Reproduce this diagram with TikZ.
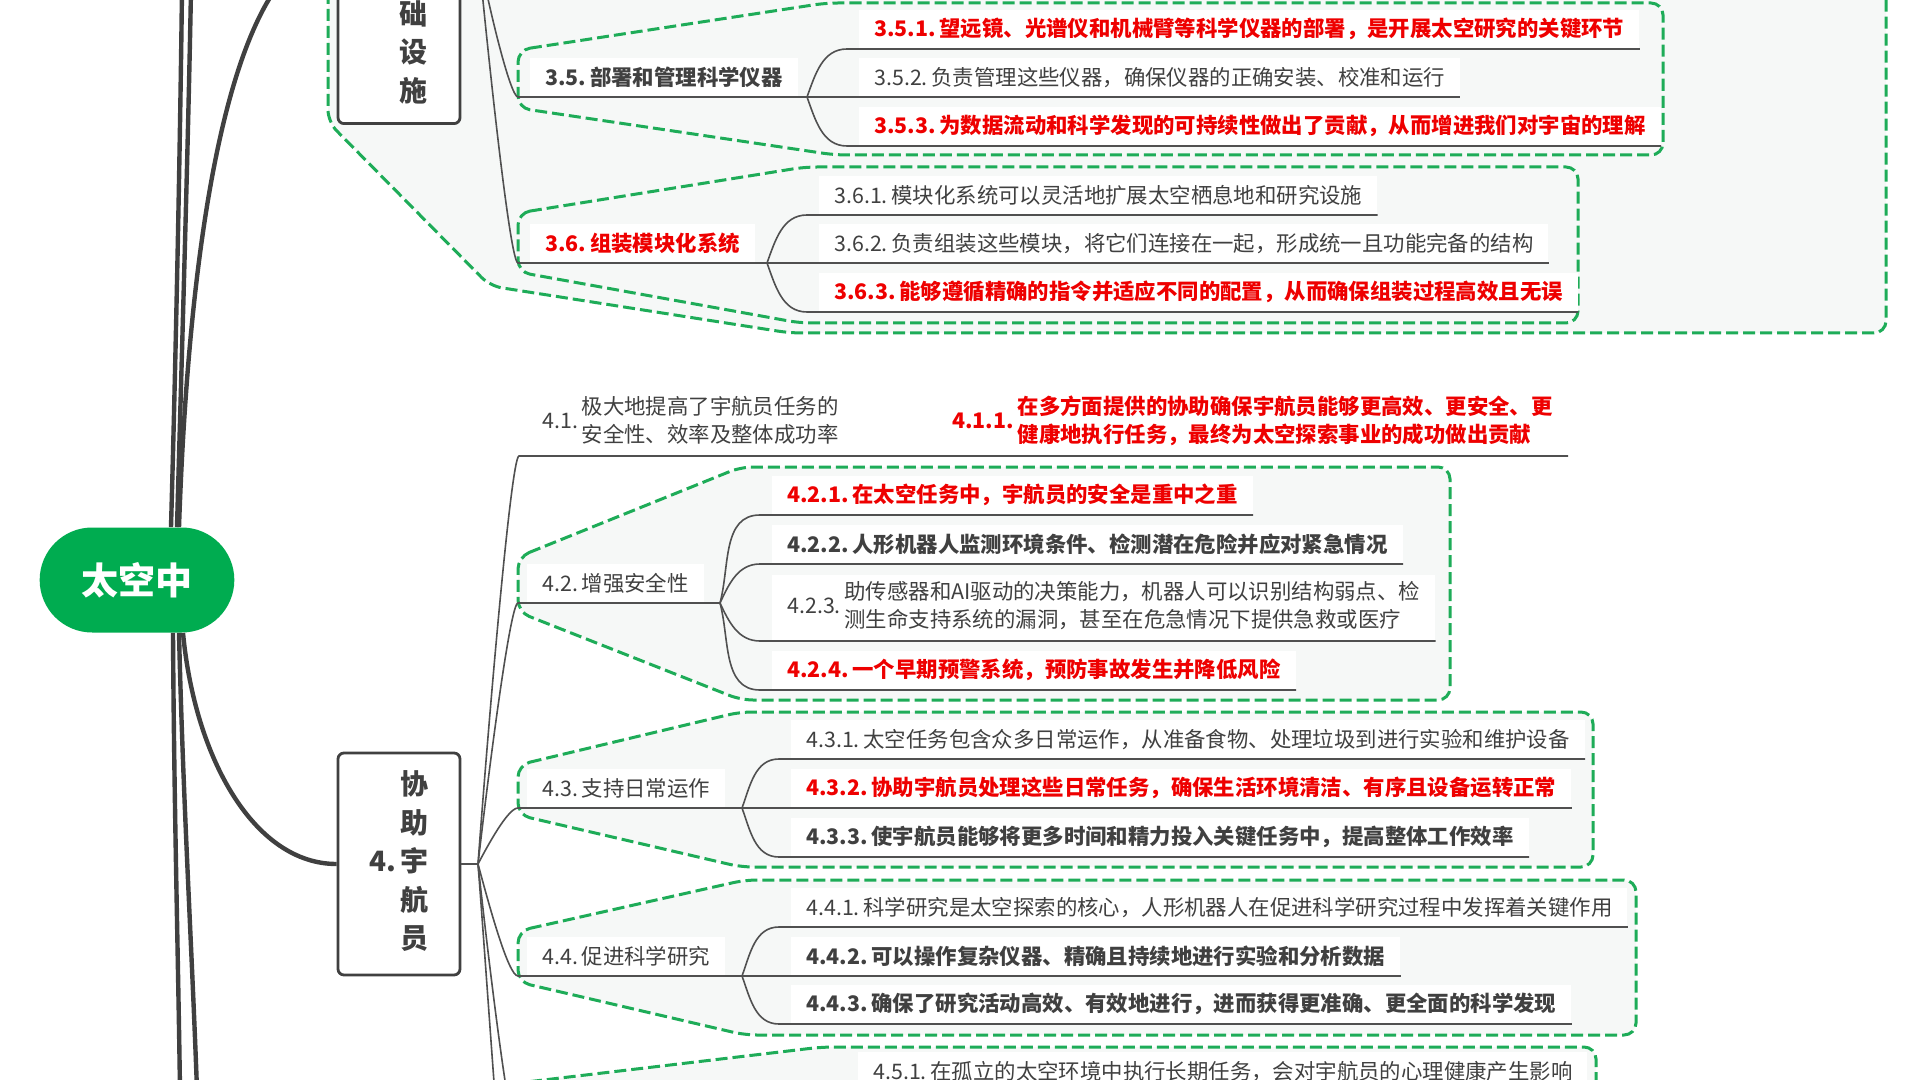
\documentclass[tikz,border=0pt]{standalone}
\usepackage{fontspec}
\setmainfont{Noto Sans CJK SC}
\usetikzlibrary{shapes.misc}

\definecolor{ink}{RGB}{64,64,64}
\definecolor{hotred}{RGB}{238,0,0}
\definecolor{wirecol}{RGB}{80,80,80}
\definecolor{dashgreen}{RGB}{30,172,88}
\definecolor{shade}{RGB}{246,248,247}
\definecolor{hubgreen}{RGB}{0,172,80}

\newcommand{\txtfont}{\fontsize{10.7pt}{14.3pt}\selectfont}
\newcommand{\numlines}[3]{#1\,\begin{tabular}{@{}l@{}}#2\\#3\end{tabular}}

\tikzstyle{trunk} = [line width=2.2pt, draw=ink]
\tikzstyle{link} = [line width=0.8pt, draw=wirecol]
\tikzstyle{grp} = [draw=dashgreen, fill=shade, line width=1.5pt, dash pattern=on 6pt off 2.5pt, rounded corners=6pt]
\tikzstyle{topic} = [fill=white, anchor=south west, inner xsep=7.5pt, inner ysep=2.2pt, minimum height=19.5pt, text=ink, font=\txtfont]
\tikzstyle{hot} = [topic, text=hotred, font=\txtfont\bfseries]
\tikzstyle{strong} = [topic, font=\txtfont\bfseries]
\tikzstyle{mainbox} = [draw=ink, line width=1.4pt, rounded corners=3pt, fill=white, minimum width=61pt, text=ink, font=\fontsize{14pt}{19.3pt}\selectfont\bfseries]
\tikzstyle{boxlabel} = [text=ink, font=\fontsize{14pt}{19.3pt}\selectfont\bfseries]
\tikzstyle{hub} = [rounded rectangle, fill=hubgreen, text=white, minimum width=104pt, minimum height=52.5pt, font=\fontsize{18.5pt}{22pt}\selectfont\bfseries]

\begin{document}
\begin{tikzpicture}[x=0.5pt, y=-0.5pt]
        \useasboundingbox (0,0) rectangle (1920,1080);
        \clip (0,0) rectangle (1920,1080);
        \fill[white] (0,0) rectangle (1920,1080);

        % dashed groups
        \draw[grp] (328,-20) -- (328,122) -- (490,286) -- (790,333) -- (1886,333) -- (1886,-20) -- cycle;
        \draw[grp] (518,50) -- (826,3) -- (1663,3) -- (1663,155) -- (835,155) -- (518,108) -- cycle;
        \draw[grp] (518,213) -- (805,167) -- (1578,167) -- (1578,323) -- (800,323) -- (518,272) -- cycle;
        \draw[grp] (518,557) -- (741,467) -- (1450,467) -- (1450,700) -- (741,700) -- (518,612) -- cycle;
        \draw[grp] (518,765) -- (740,712) -- (1593,712) -- (1593,867) -- (741,867) -- (518,815) -- cycle;
        \draw[grp] (518,931) -- (745,880) -- (1636,880) -- (1636,1035) -- (745,1035) -- (518,982) -- cycle;
        \draw[grp] (518,1083) -- (822,1047) -- (1596,1047) -- (1596,1200) -- (518,1200) -- cycle;

        \node (hub) [hub] at (137,580) {太空中};
        \node (n3) [mainbox, minimum height=175pt, anchor=south] at (399,125) {};
        \node (n3lbl) [boxlabel] at (413,55) {\begin{tabular}{@{}c@{}}础\\设\\施\end{tabular}};
        \node (n4) [mainbox, minimum height=111pt] at (399,864) {\begin{tabular}{@{}r@{\,}c@{}} &协\\ &助\\4.&宇\\ &航\\ &员\end{tabular}};

        \node (n35) [strong] at (530,97) {3.5.\,部署和管理科学仪器};
        \node (n351) [hot] at (859,49) {3.5.1.\,望远镜、光谱仪和机械臂等科学仪器的部署，是开展太空研究的关键环节};
        \node (n352) [topic] at (859,97) {3.5.2.\,负责管理这些仪器，确保仪器的正确安装、校准和运行};
        \node (n353) [hot] at (859,146) {3.5.3.\,为数据流动和科学发现的可持续性做出了贡献，从而增进我们对宇宙的理解};
        \node (n36) [hot] at (530,263) {3.6.\,组装模块化系统};
        \node (n361) [topic] at (819,215) {3.6.1.\,模块化系统可以灵活地扩展太空栖息地和研究设施};
        \node (n362) [topic] at (819,263) {3.6.2.\,负责组装这些模块，将它们连接在一起，形成统一且功能完备的结构};
        \node (n363) [hot] at (819,312) {3.6.3.\,能够遵循精确的指令并适应不同的配置，从而确保组装过程高效且无误};

        \node (n41) [topic] at (527,456) {\numlines{4.1.}{极大地提高了宇航员任务的}{安全性、效率及整体成功率}};
        \node (n411) [hot] at (937,456) {\numlines{4.1.1.}{在多方面提供的协助确保宇航员能够更高效、更安全、更}{健康地执行任务，最终为太空探索事业的成功做出贡献}};
        \node (n42) [topic] at (527,603) {4.2.\,增强安全性};
        \node (n421) [hot] at (772,515) {4.2.1.\,在太空任务中，宇航员的安全是重中之重};
        \node (n422) [strong] at (772,564) {4.2.2.\,人形机器人监测环境条件、检测潜在危险并应对紧急情况};
        \node (n423) [topic] at (772,641) {\numlines{4.2.3.}{助传感器和AI驱动的决策能力，机器人可以识别结构弱点、检}{测生命支持系统的漏洞，甚至在危急情况下提供急救或医疗}};
        \node (n424) [hot] at (772,690) {4.2.4.\,一个早期预警系统，预防事故发生并降低风险};
        \node (n43) [topic] at (527,808) {4.3.\,支持日常运作};
        \node (n431) [topic] at (791,759) {4.3.1.\,太空任务包含众多日常运作，从准备食物、处理垃圾到进行实验和维护设备};
        \node (n432) [hot] at (791,808) {4.3.2.\,协助宇航员处理这些日常任务，确保生活环境清洁、有序且设备运转正常};
        \node (n433) [strong] at (791,857) {4.3.3.\,使宇航员能够将更多时间和精力投入关键任务中，提高整体工作效率};
        \node (n44) [topic] at (527,976) {4.4.\,促进科学研究};
        \node (n441) [topic] at (791,927) {4.4.1.\,科学研究是太空探索的核心，人形机器人在促进科学研究过程中发挥着关键作用};
        \node (n442) [strong] at (791,976) {4.4.2.\,可以操作复杂仪器、精确且持续地进行实验和分析数据};
        \node (n443) [strong] at (791,1024) {4.4.3.\,确保了研究活动高效、有效地进行，进而获得更准确、更全面的科学发现};
        \node (n451) [topic] at (858,1091) {4.5.1.\,在孤立的太空环境中执行长期任务，会对宇航员的心理健康产生影响};

        \coordinate (up1) at (182,-10);
        \coordinate (up2) at (191,-10);
        \coordinate (down1) at (180,1090);
        \coordinate (down2) at (197,1090);
        \coordinate (f3) at (478,-50);
        \coordinate (f35) at (807,97);
        \coordinate (f36) at (767,263);
        \coordinate (f4) at (478,864);
        \coordinate (f42) at (720,603);
        \coordinate (f43) at (742,808);
        \coordinate (f44) at (742,976);
        \coordinate (e45) at (518,1140);
        \coordinate (e46) at (518,1330);

        % trunk lines
        \draw[trunk] ([xshift=17pt]hub.north) .. controls (176,350) and (180,150) .. (up1);
        \draw[trunk] ([xshift=20pt]hub.north) .. controls (182,350) and (188,150) .. (up2);
        \draw[trunk] ([xshift=21pt]hub.north) .. controls (192,150) and (250,-50) .. (n3.west);
        \draw[trunk] ([xshift=18pt]hub.south) .. controls (174,800) and (178,950) .. (down1);
        \draw[trunk] ([xshift=21pt]hub.south) .. controls (183,800) and (192,950) .. (down2);
        \draw[trunk] ([xshift=23pt]hub.south) .. controls (195,760) and (255,864) .. (n4.west);

        % branch 3
        \draw[link] (n3.east) -- (f3);
        \draw[link] (f3) .. controls +(9,50) and +(-8,0) .. ([xshift=-6pt]n35.south west) -- (f35);
        \draw[link] (f3) .. controls +(10,105) and +(-8,0) .. ([xshift=-6pt]n36.south west) -- (f36);
        \draw[link] (f35) to[out=70,in=180] ([xshift=-6pt]n351.south west) -- (n351.south east);
        \draw[link] (f35) -- (n352.south east);
        \draw[link] (f35) to[out=-70,in=180] ([xshift=-6pt]n353.south west) -- (n353.south east);
        \draw[link] (f36) to[out=70,in=180] ([xshift=-6pt]n361.south west) -- (n361.south east);
        \draw[link] (f36) -- (n362.south east);
        \draw[link] (f36) to[out=-70,in=180] ([xshift=-6pt]n363.south west) -- (n363.south east);

        % branch 4
        \draw[link] (n4.east) -- (f4);
        \draw[link] (f4) .. controls +(10,-136) and +(-8,0) .. ([xshift=-4pt]n41.south west) -- (n411.south east);
        \draw[link] (f4) .. controls +(10,-87) and +(-8,0) .. ([xshift=-4.5pt]n42.south west) -- (f42);
        \draw[link] (f4) .. controls +(10,-19) and +(-10,0) .. ([xshift=-4.5pt]n43.south west) -- (f43);
        \draw[link] (f4) .. controls +(10,37) and +(-10,0) .. ([xshift=-4.5pt]n44.south west) -- (f44);
        \draw[link] (f4) .. controls +(10,92) and +(-8,0) .. (e45);
        \draw[link] (f4) .. controls +(12,155) and +(-8,0) .. (e46);
        \draw[link] (f42) to[out=75,in=180] ([xshift=-6pt]n421.south west) -- (n421.south east);
        \draw[link] (f42) to[out=65,in=180] ([xshift=-6pt]n422.south west) -- (n422.south east);
        \draw[link] (f42) to[out=-65,in=180] ([xshift=-6pt]n423.south west) -- (n423.south east);
        \draw[link] (f42) to[out=-75,in=180] ([xshift=-6pt]n424.south west) -- (n424.south east);
        \draw[link] (f43) to[out=70,in=180] ([xshift=-6pt]n431.south west) -- (n431.south east);
        \draw[link] (f43) -- (n432.south east);
        \draw[link] (f43) to[out=-70,in=180] ([xshift=-6pt]n433.south west) -- (n433.south east);
        \draw[link] (f44) to[out=70,in=180] ([xshift=-6pt]n441.south west) -- (n441.south east);
        \draw[link] (f44) -- (n442.south east);
        \draw[link] (f44) to[out=-70,in=180] ([xshift=-6pt]n443.south west) -- (n443.south east);
\end{tikzpicture}
\end{document}
